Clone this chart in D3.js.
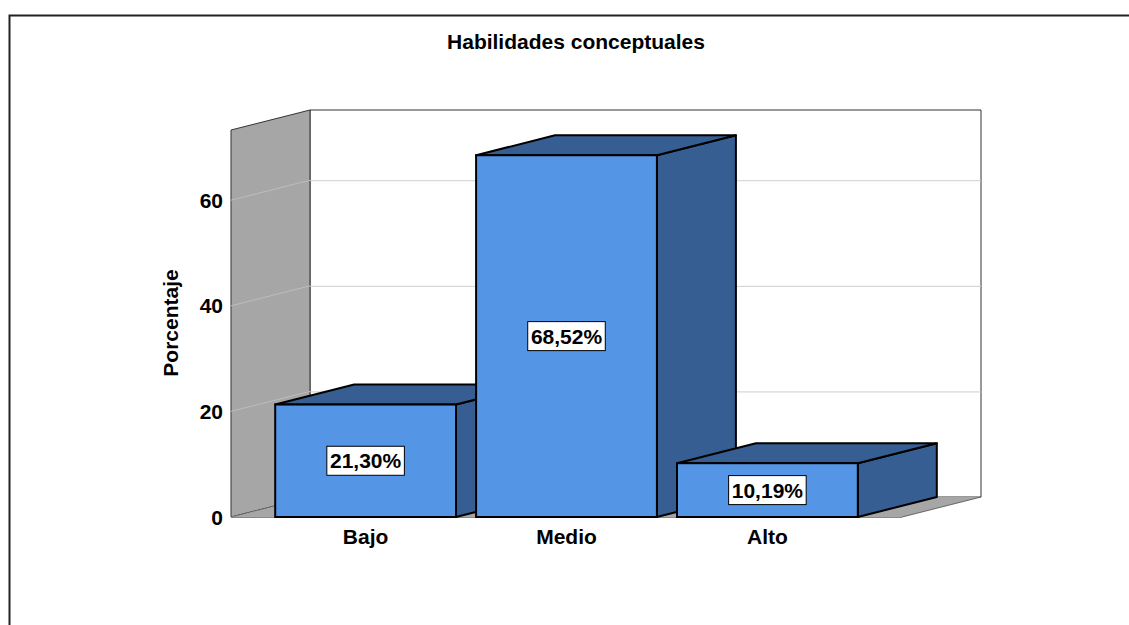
<!DOCTYPE html>
<html><head><meta charset="utf-8">
<script src="https://cdn.jsdelivr.net/npm/d3@7/dist/d3.min.js"></script>
<style>body{margin:0;background:#fff}svg{display:block;font-family:"Liberation Sans",Arial,sans-serif}</style>
</head><body><svg id="c" width="1129" height="625"></svg>
<script>
const categories = ["Bajo", "Medio", "Alto"];
const values = [21.30, 68.52, 10.19];
const valueLabels = ["21,30%", "68,52%", "10,19%"];
const tickValues = [0, 20, 40, 60];
const title = "Habilidades conceptuales";
const yTitle = "Porcentaje";

const svg = d3.select("#c");
const dx = 79, dy = -20;
const x0 = 231, x1 = 902, yBase = 517, yTop = 130;
const y = d3.scaleLinear().domain([0, 73.3]).range([yBase, yTop]);
const x = d3.scaleBand().domain(categories).range([x0, x1]).paddingInner(0.1).paddingOuter(0.22);
const FS = 21;

// frame
svg.append("path").attr("d", "M9.5,625V15.5H1129").attr("fill", "none").attr("stroke", "#222").attr("stroke-width", 2);

svg.append("text").attr("x", 576).attr("y", 49).attr("text-anchor", "middle")
  .attr("font-size", FS).attr("font-weight", "bold").text(title);

const pt = (a) => a.map(p => p.join(",")).join(" ");
// back wall
svg.append("polygon").attr("points", pt([[x0+dx, yTop+dy],[x1+dx, yTop+dy],[x1+dx, yBase+dy],[x0+dx, yBase+dy]]))
  .attr("fill", "#fff").attr("stroke", "#333").attr("stroke-width", 1);
// left wall
svg.append("polygon").attr("points", pt([[x0, yTop],[x0+dx, yTop+dy],[x0+dx, yBase+dy],[x0, yBase]]))
  .attr("fill", "#a6a6a6").attr("stroke", "#333").attr("stroke-width", 1);
// floor
svg.append("polygon").attr("points", pt([[x0, yBase],[x1, yBase],[x1+dx, yBase+dy],[x0+dx, yBase+dy]]))
  .attr("fill", "#a6a6a6").attr("stroke", "none");
svg.append("line").attr("x1", x1).attr("y1", yBase).attr("x2", x1+dx).attr("y2", yBase+dy).attr("stroke", "#666");
svg.append("line").attr("x1", x0).attr("y1", yBase).attr("x2", x0+dx).attr("y2", yBase+dy)
  .attr("stroke", "#666").attr("stroke-dasharray", "2,1.5");
svg.append("line").attr("x1", x0).attr("y1", yBase+0.5).attr("x2", x1).attr("y2", yBase+0.5).attr("stroke", "#888");

// gridlines
tickValues.filter(t => t > 0).forEach(t => {
  svg.append("line").attr("x1", x0).attr("y1", y(t)).attr("x2", x0+dx).attr("y2", y(t)+dy).attr("stroke", "#bdbdbd");
  svg.append("line").attr("x1", x0+dx).attr("y1", y(t)+dy+0.5).attr("x2", x1+dx).attr("y2", y(t)+dy+0.5).attr("stroke", "#cfcfcf");
});

// y tick labels
svg.append("g").selectAll("text").data(tickValues).join("text")
  .attr("x", 223).attr("y", d => y(d)).attr("dy", "0.36em").attr("text-anchor", "end")
  .attr("font-size", FS).attr("font-weight", "bold").text(d => d);

svg.append("text").attr("transform", "translate(178,323) rotate(-90)").attr("text-anchor", "middle")
  .attr("font-size", FS).attr("font-weight", "bold").text(yTitle);

const front = "#5595e5", dark = "#365e92";
categories.forEach((c, i) => {
  const bx = x(c), bw = x.bandwidth(), top = y(values[i]);
  const g = svg.append("g");
  g.append("polygon").attr("points", pt([[bx+bw, top],[bx+bw+dx, top+dy],[bx+bw+dx, yBase+dy],[bx+bw, yBase]]))
    .attr("fill", dark).attr("stroke", "#000").attr("stroke-width", 2).attr("stroke-linejoin", "round");
  g.append("polygon").attr("points", pt([[bx, top],[bx+dx, top+dy],[bx+bw+dx, top+dy],[bx+bw, top]]))
    .attr("fill", dark).attr("stroke", "#000").attr("stroke-width", 2).attr("stroke-linejoin", "round");
  g.append("rect").attr("x", bx).attr("y", top).attr("width", bw).attr("height", yBase - top)
    .attr("fill", front).attr("stroke", "#000").attr("stroke-width", 2);
  const cy = (top + yBase) / 2, cx = bx + bw / 2;
  const t = g.append("text").attr("x", cx).attr("y", cy).attr("dy", "0.36em").attr("text-anchor", "middle")
    .attr("font-size", 21).attr("font-weight", "bold").text(valueLabels[i]);
  const bb = t.node().getBBox();
  g.insert("rect", "text:last-of-type").attr("x", cx - bb.width / 2 - 3).attr("y", cy - 14.5).attr("width", bb.width + 6).attr("height", 29)
    .attr("fill", "#fff").attr("stroke", "#000").attr("stroke-width", 1);
  svg.append("text").attr("x", cx).attr("y", 544).attr("text-anchor", "middle")
    .attr("font-size", FS).attr("font-weight", "bold").text(c);
});
</script></body></html>
